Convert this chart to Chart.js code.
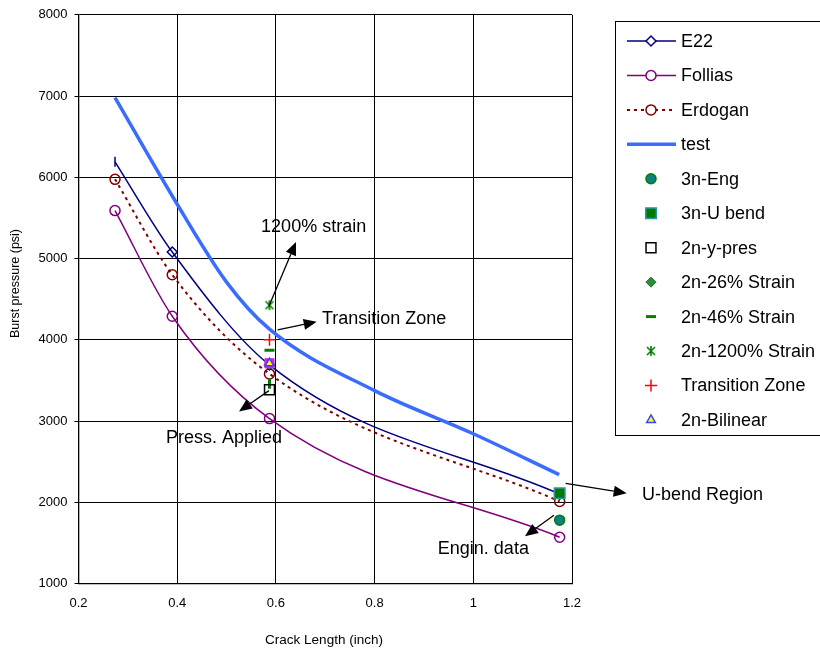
<!DOCTYPE html>
<html>
<head>
<meta charset="utf-8">
<script src="https://cdn.jsdelivr.net/npm/chart.js@4"></script>
<style>
  html, body { margin: 0; padding: 0; background: #fff; }
  canvas { display: block; }
</style>
</head>
<body>
<canvas id="chart" width="820" height="656"></canvas>
<script>
// Crack length (inch) where the three model curves are evaluated
const crackModel = [0.274, 0.39, 0.587, 1.175];
// Model burst pressure predictions (psi)
const e22Burst = [6190, 5080, 3690, 2100];
const folliasBurst = [5590, 4290, 3030, 1570];
const erdoganBurst = [5975, 4800, 3580, 2010];
// Measured burst curve
const testCrack = [0.274, 0.39, 0.5, 0.587, 0.8, 1.0, 1.174];
const testBurst = [6980, 5770, 4710, 4130, 3374, 2843, 2340];
// Single measurements
const longCrack = 1.175;
const shortCrack = 0.587;
const engBurst = [1780];
const uBendBurst = [2110];
const yPresBurst = [3385];
const strain26Burst = [3700];
const strain46Burst = [3870, 3460];
const strain1200Burst = [4425];
const transitionBurst = [4000];
const bilinearBurst = [3710];
// Axis ticks
const xTickValues = [0.2, 0.4, 0.6, 0.8, 1.0, 1.2];
const yTickValues = [1000, 2000, 3000, 4000, 5000, 6000, 7000, 8000];

const FONT = '"Liberation Sans", Arial, sans-serif';
Chart.defaults.font.family = FONT;
Chart.defaults.color = '#000';

const pairs = (xs, ys) => ys.map((y, i) => ({ x: Array.isArray(xs) ? xs[i] : xs, y }));

// six-armed asterisk marker
function makeAsterisk(color) {
  const c = document.createElement('canvas');
  c.width = 12; c.height = 12;
  const g = c.getContext('2d');
  g.strokeStyle = color; g.lineWidth = 1.6;
  g.beginPath();
  g.moveTo(2, 2); g.lineTo(10, 10);
  g.moveTo(10, 2); g.lineTo(2, 10);
  g.moveTo(6, 1); g.lineTo(6, 11);
  g.stroke();
  return c;
}
const asterisk = makeAsterisk('#008000');

const datasets = [
  { label: 'E22', data: pairs(crackModel, e22Burst), showLine: true, borderColor: '#000080', borderWidth: 1.5,
    pointStyle: ['line', 'rectRot', 'rectRot', 'rectRot'], pointRotation: [90, 0, 0, 0], pointRadius: 5,
    pointBorderColor: '#000080', pointBackgroundColor: 'rgba(0,0,0,0)', pointBorderWidth: 1.5,
    cubicInterpolationMode: 'monotone', order: 12 },
  { label: 'Follias', data: pairs(crackModel, folliasBurst), showLine: true, borderColor: '#800080', borderWidth: 1.5,
    pointStyle: 'circle', pointRadius: 5, pointBorderColor: '#800080', pointBackgroundColor: 'rgba(0,0,0,0)',
    pointBorderWidth: 1.5, cubicInterpolationMode: 'monotone', order: 12 },
  { label: 'Erdogan', data: pairs(crackModel, erdoganBurst), showLine: true, borderColor: '#800000', borderWidth: 2,
    borderDash: [3, 4], pointStyle: 'circle', pointRadius: 5, pointBorderColor: '#800000',
    pointBackgroundColor: 'rgba(0,0,0,0)', pointBorderWidth: 1.5, cubicInterpolationMode: 'monotone', order: 12 },
  { label: 'test', data: pairs(testCrack, testBurst), showLine: true, borderColor: '#3a6cff', borderWidth: 3.5,
    pointRadius: 0, cubicInterpolationMode: 'monotone', order: 11 },
  { label: '3n-Eng', data: pairs(longCrack, engBurst), pointStyle: 'circle', pointRadius: 5,
    backgroundColor: '#0f7f7f', borderColor: '#008000', borderWidth: 1.5, order: 2 },
  { label: '3n-U bend', data: pairs(longCrack, uBendBurst), pointStyle: 'rect', pointRadius: 7.5,
    backgroundColor: '#007a00', borderColor: '#2a9a9a', borderWidth: 1.5, order: 2 },
  { label: '2n-y-pres', data: pairs(shortCrack, yPresBurst), pointStyle: 'rect', pointRadius: 7,
    backgroundColor: 'rgba(0,0,0,0)', borderColor: '#000', borderWidth: 1.5, order: 2 },
  { label: '2n-26% Strain', data: pairs(shortCrack, strain26Burst), pointStyle: 'rectRot', pointRadius: 5,
    backgroundColor: '#2e8b3e', borderColor: '#1e6b2e', borderWidth: 1, order: 3 },
  { label: '2n-46% Strain', data: pairs(shortCrack, strain46Burst), pointStyle: 'line', pointRadius: 5,
    pointRotation: [0, 90], borderColor: '#008000', borderWidth: 3, order: 2 },
  { label: '2n-1200% Strain', data: pairs(shortCrack, strain1200Burst), pointStyle: asterisk, pointRadius: 6,
    borderColor: '#008000', borderWidth: 1.5, order: 2 },
  { label: 'Transition Zone', data: pairs(shortCrack, transitionBurst), pointStyle: 'cross', pointRadius: 6,
    borderColor: '#ff0000', borderWidth: 1.5, order: 2 },
  { label: '2n-Bilinear', data: pairs(shortCrack, bilinearBurst), pointStyle: 'triangle', pointRadius: 5,
    backgroundColor: '#ffff00', borderColor: '#3344ff', borderWidth: 1.5, order: 0 },
  { label: '2n-Bilinear mount', data: pairs(shortCrack, bilinearBurst), pointStyle: 'rect', pointRadius: 6.5,
    backgroundColor: '#ff00ff', borderColor: '#cc33cc', borderWidth: 1, order: 1, noLegend: true }
];

// Callout arrows and captions, anchored in data units
const callouts = [
  { text: '1200% strain', from: [0.586, 4417], to: [0.6407, 5203], at: [0.570, 5387] },
  { text: 'Transition Zone', from: [0.6036, 4123], to: [0.6827, 4221], at: [0.6934, 4258] },
  { text: 'Press. Applied', from: [0.586, 3374], to: [0.5252, 3117], at: [0.3773, 2785] },
  { text: 'Engin. data', from: [1.1635, 1840], to: [1.1047, 1583], at: [0.9281, 1424] },
  { text: 'U-bend Region', from: [1.1872, 2233], to: [1.3108, 2110], at: [1.3419, 2086] }
];

function arrow(ctx, x1, y1, x2, y2) {
  const ang = Math.atan2(y2 - y1, x2 - x1);
  const len = 13, half = 5.5;
  const bx = x2 - len * Math.cos(ang), by = y2 - len * Math.sin(ang);
  ctx.beginPath();
  ctx.moveTo(x1, y1); ctx.lineTo(bx, by);
  ctx.stroke();
  ctx.beginPath();
  ctx.moveTo(x2, y2);
  ctx.lineTo(bx + half * Math.sin(ang), by - half * Math.cos(ang));
  ctx.lineTo(bx - half * Math.sin(ang), by + half * Math.cos(ang));
  ctx.closePath();
  ctx.fill();
}

const decorations = {
  id: 'decorations',
  afterDraw(chart) {
    const ctx = chart.ctx;
    const xs = chart.scales.x, ys = chart.scales.y;
    ctx.save();

    // callouts
    ctx.strokeStyle = '#000'; ctx.fillStyle = '#000'; ctx.lineWidth = 1.3;
    ctx.font = '18px ' + FONT;
    ctx.textBaseline = 'middle'; ctx.textAlign = 'left';
    callouts.forEach(c => {
      arrow(ctx, xs.getPixelForValue(c.from[0]), ys.getPixelForValue(c.from[1]),
                 xs.getPixelForValue(c.to[0]), ys.getPixelForValue(c.to[1]));
      ctx.fillText(c.text, xs.getPixelForValue(c.at[0]), ys.getPixelForValue(c.at[1]));
    });

    // axis titles
    ctx.font = '13.5px ' + FONT;
    ctx.textAlign = 'center';
    ctx.fillText('Crack Length (inch)', 324, 640);
    ctx.save();
    ctx.translate(15.5, 283.5);
    ctx.rotate(-Math.PI / 2);
    ctx.font = '12.5px ' + FONT;
    ctx.fillText('Burst pressure (psi)', 0, 0);
    ctx.restore();

    // legend
    ctx.lineWidth = 1;
    ctx.strokeStyle = '#000';
    ctx.strokeRect(615.5, 21.5, 300, 414);
    ctx.font = '18px ' + FONT;
    ctx.textAlign = 'left';
    let row = 0;
    chart.data.datasets.forEach(ds => {
      if (ds.noLegend) return;
      const y = 41 + row * 34.45;
      row++;
      if (ds.showLine) {
        ctx.save();
        ctx.strokeStyle = ds.borderColor;
        ctx.lineWidth = ds.borderWidth;
        ctx.setLineDash(ds.borderDash || []);
        ctx.beginPath();
        ctx.moveTo(627, y); ctx.lineTo(676, y);
        ctx.stroke();
        ctx.restore();
      }
      const r = ds.pointRadius;
      if (r > 0) {
        const style = Array.isArray(ds.pointStyle) ? ds.pointStyle[ds.pointStyle.length - 1] : ds.pointStyle;
        ctx.save();
        ctx.fillStyle = ds.showLine ? '#fff' : (ds.backgroundColor || '#fff');
        ctx.strokeStyle = ds.pointBorderColor || ds.borderColor;
        const bw = ds.pointBorderWidth || ds.borderWidth;
        ctx.lineWidth = bw;
        Chart.helpers.drawPoint(ctx, { pointStyle: style, rotation: 0, radius: r, borderWidth: bw }, 651, y);
        ctx.restore();
      }
      ctx.fillStyle = '#000';
      ctx.fillText(ds.label, 681, y + 1);
    });
    ctx.restore();
  }
};

new Chart(document.getElementById('chart'), {
  type: 'scatter',
  data: { datasets },
  options: {
    responsive: false,
    animation: false,
    layout: { padding: { left: 0, right: 248, top: 13, bottom: 0 } },
    plugins: { legend: { display: false }, tooltip: { enabled: false } },
    scales: {
      x: {
        type: 'linear', min: 0.2, max: 1.2,
        afterBuildTicks: s => { s.ticks = xTickValues.map(v => ({ value: v })); },
        afterFit: s => { s.height = 72.5; },
        ticks: { font: { size: 13 }, padding: 12, color: '#000', callback: v => String(+v.toFixed(1)) },
        grid: { color: '#000', lineWidth: 1, drawTicks: false },
        border: { color: '#000', width: 1.3 }
      },
      y: {
        type: 'linear', min: 1000, max: 8000,
        afterBuildTicks: s => { s.ticks = yTickValues.map(v => ({ value: v })); },
        afterFit: s => { s.width = 78.5; },
        ticks: { font: { size: 13 }, padding: 7, color: '#000', callback: v => String(v) },
        grid: { color: '#000', lineWidth: 1, tickLength: 4 },
        border: { color: '#000', width: 1.3 }
      }
    }
  },
  plugins: [decorations]
});
</script>
</body>
</html>
